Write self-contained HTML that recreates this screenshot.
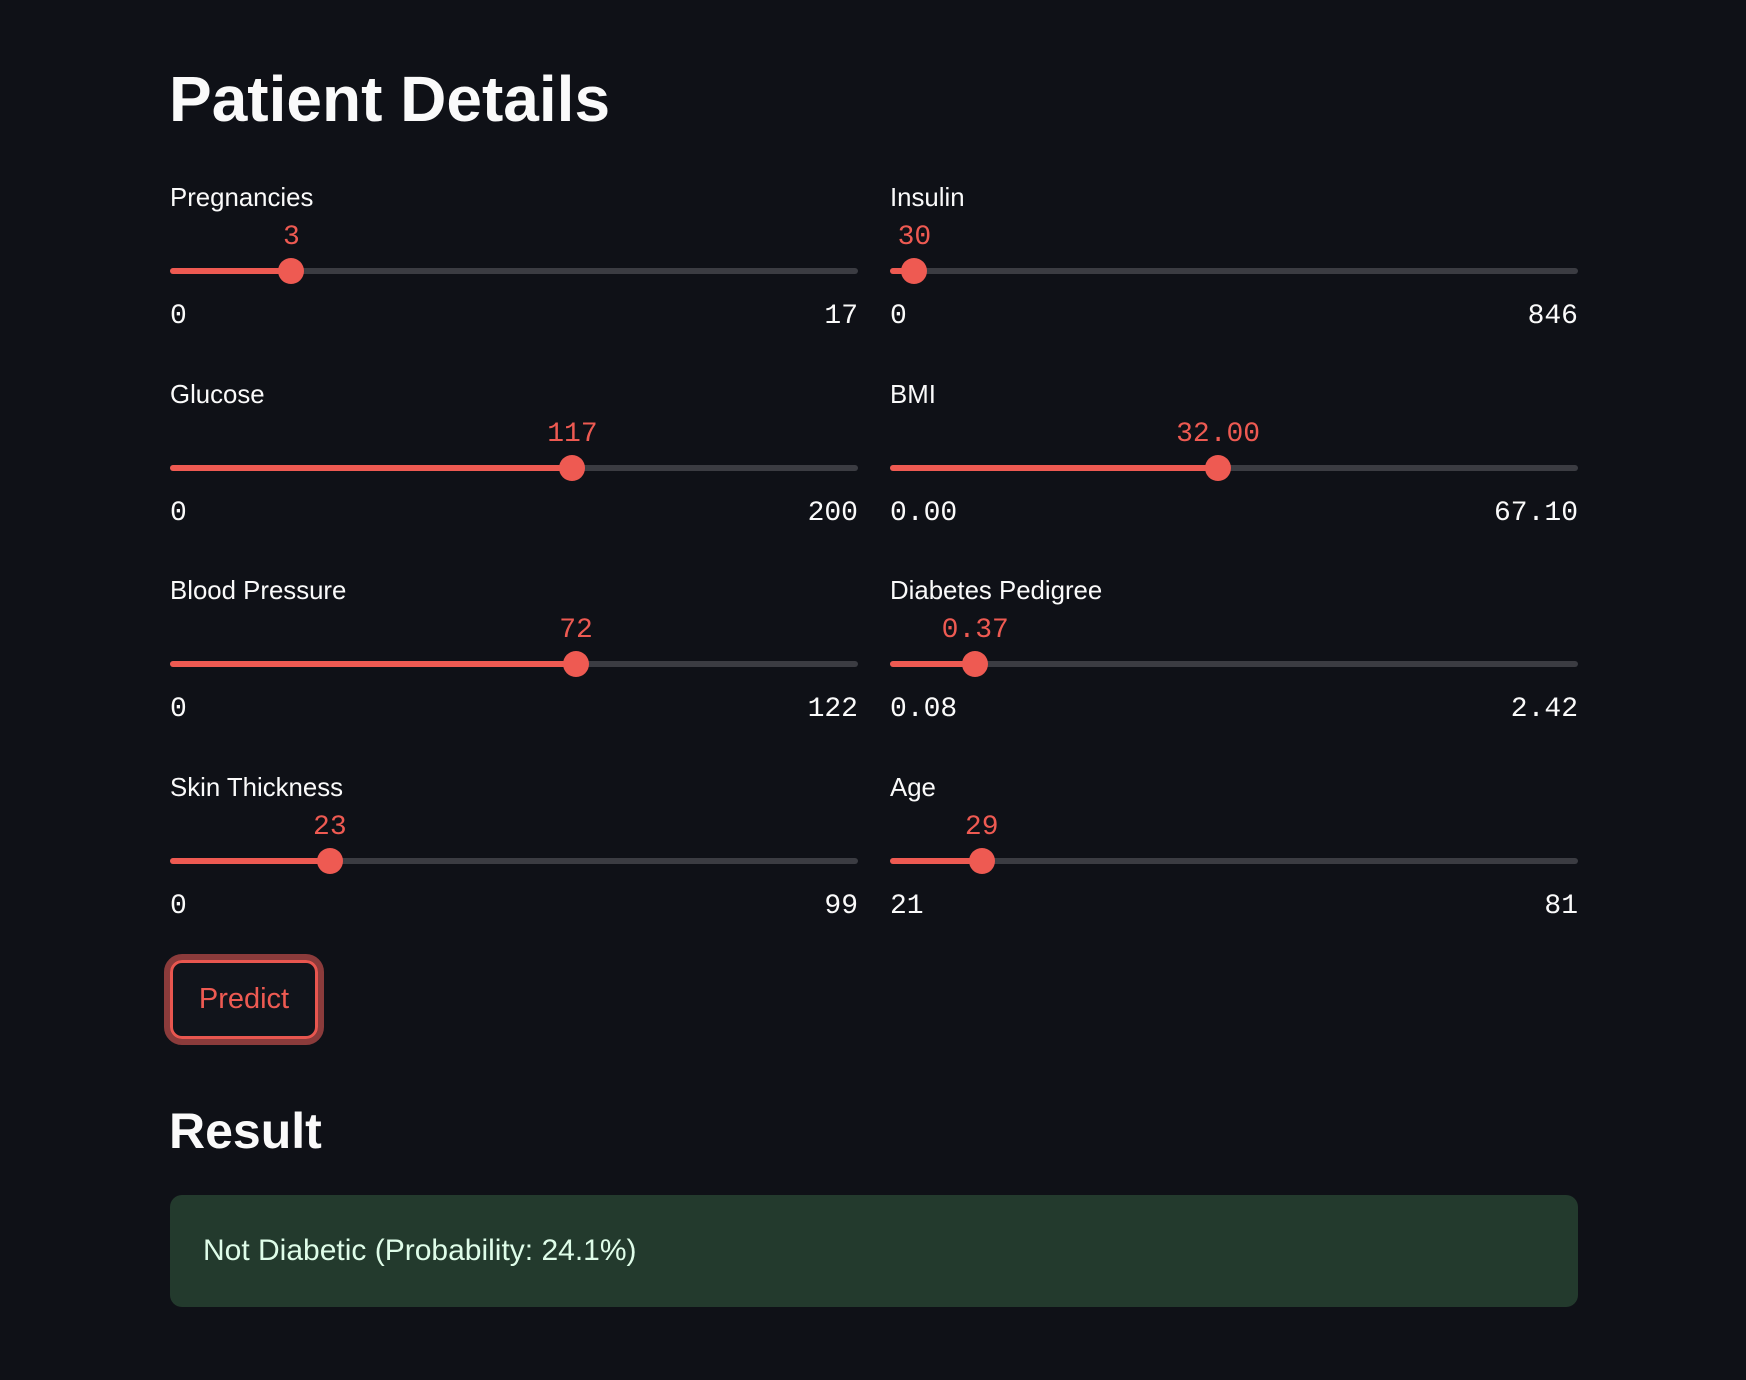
<!DOCTYPE html>
<html><head><meta charset="utf-8"><style>
html,body{margin:0;padding:0;background:#0f1117;width:1746px;height:1380px;overflow:hidden;font-family:"Liberation Sans",sans-serif;color:#fafafa}
.abs{position:absolute}
#title{left:169px;top:59px;font-size:64px;font-weight:bold;line-height:80px;white-space:nowrap}
.lbl{font-size:25.8px;line-height:30px;white-space:nowrap;color:#fafafa}
.val{font-family:"Liberation Mono",monospace;font-size:28px;line-height:30px;color:#ee5a52;transform:translateX(-50%);white-space:nowrap}
.mm{font-family:"Liberation Mono",monospace;font-size:28px;line-height:30px;color:#fafafa;white-space:nowrap}
.track{height:6px;border-radius:3px;background:#3b3c42}
.fill{height:6px;border-radius:3px;background:#ee5a52}
.thumb{width:26px;height:26px;border-radius:50%;background:#ee5a52;transform:translate(-50%,-50%)}
#btn{left:164px;top:954px;width:148px;height:79px;border:6px solid #8b3b3b;border-radius:18px}
#btn-in{position:absolute;left:0;top:0;right:0;bottom:0;border:3px solid #e8564f;border-radius:12px;background:#11141b;color:#ee5a52;font-size:29px;display:flex;align-items:center;justify-content:center}
#result{left:169px;top:1101px;font-size:50px;font-weight:bold;line-height:60px}
#box{left:170px;top:1195px;width:1408px;height:112px;background:#233a2d;border-radius:12px}
#box span{position:absolute;left:33px;top:56px;transform:translateY(-50%);font-size:30px;color:#dffde9;white-space:nowrap}
</style></head><body>
<div id="title" class="abs">Patient Details</div>
<div id="sliders"></div>
<div id="btn" class="abs"><div id="btn-in">Predict</div></div>
<div id="result" class="abs">Result</div>
<div id="box" class="abs"><span>Not Diabetic (Probability: 24.1%)</span></div>
<script>
const labels=["Pregnancies","Glucose","Blood Pressure","Skin Thickness","Insulin","BMI","Diabetes Pedigree","Age"];
const values=[3,117,72,23,30,32.00,0.37,29];
const mins=[0,0,0,0,0,0.00,0.08,21];
const maxs=[17,200,122,99,846,67.10,2.42,81];
const decimals=[0,0,0,0,0,2,2,0];
const root=document.getElementById('sliders');
function add(cls,name,css,txt){
  const d=document.createElement('div');
  d.className='abs '+cls;
  
  
  Object.assign(d.style,css);
  if(txt!==undefined)d.textContent=txt;
  root.appendChild(d);return d;
}
labels.forEach((lab,i)=>{
  const col=Math.floor(i/4),row=i%4;
  const x0=col?890:170,w=688;
  const dy=row*196.7;
  const fmt=v=>v.toFixed(decimals[i]);
  const px=x0+w*(values[i]-mins[i])/(maxs[i]-mins[i]);
  const key=lab.toLowerCase().replace(/ /g,'-');
  add('lbl',key+'-label',{left:x0+'px',top:(183+dy)+'px'},lab);
  add('track',key+'-track',{left:x0+'px',top:(268+dy)+'px',width:w+'px'});
  add('fill',key+'-fill',{left:x0+'px',top:(268+dy)+'px',width:(px-x0)+'px'});
  add('thumb',key+'-thumb',{left:px+'px',top:(271+dy)+'px'});
  add('val',key+'-value',{left:px+'px',top:(223+dy)+'px'},fmt(values[i]));
  add('mm',key+'-min',{left:x0+'px',top:(302+dy)+'px'},fmt(mins[i]));
  add('mm',key+'-max',{left:(x0+w)+'px',top:(302+dy)+'px',transform:'translateX(-100%)'},fmt(maxs[i]));
});
</script>
</body></html>
